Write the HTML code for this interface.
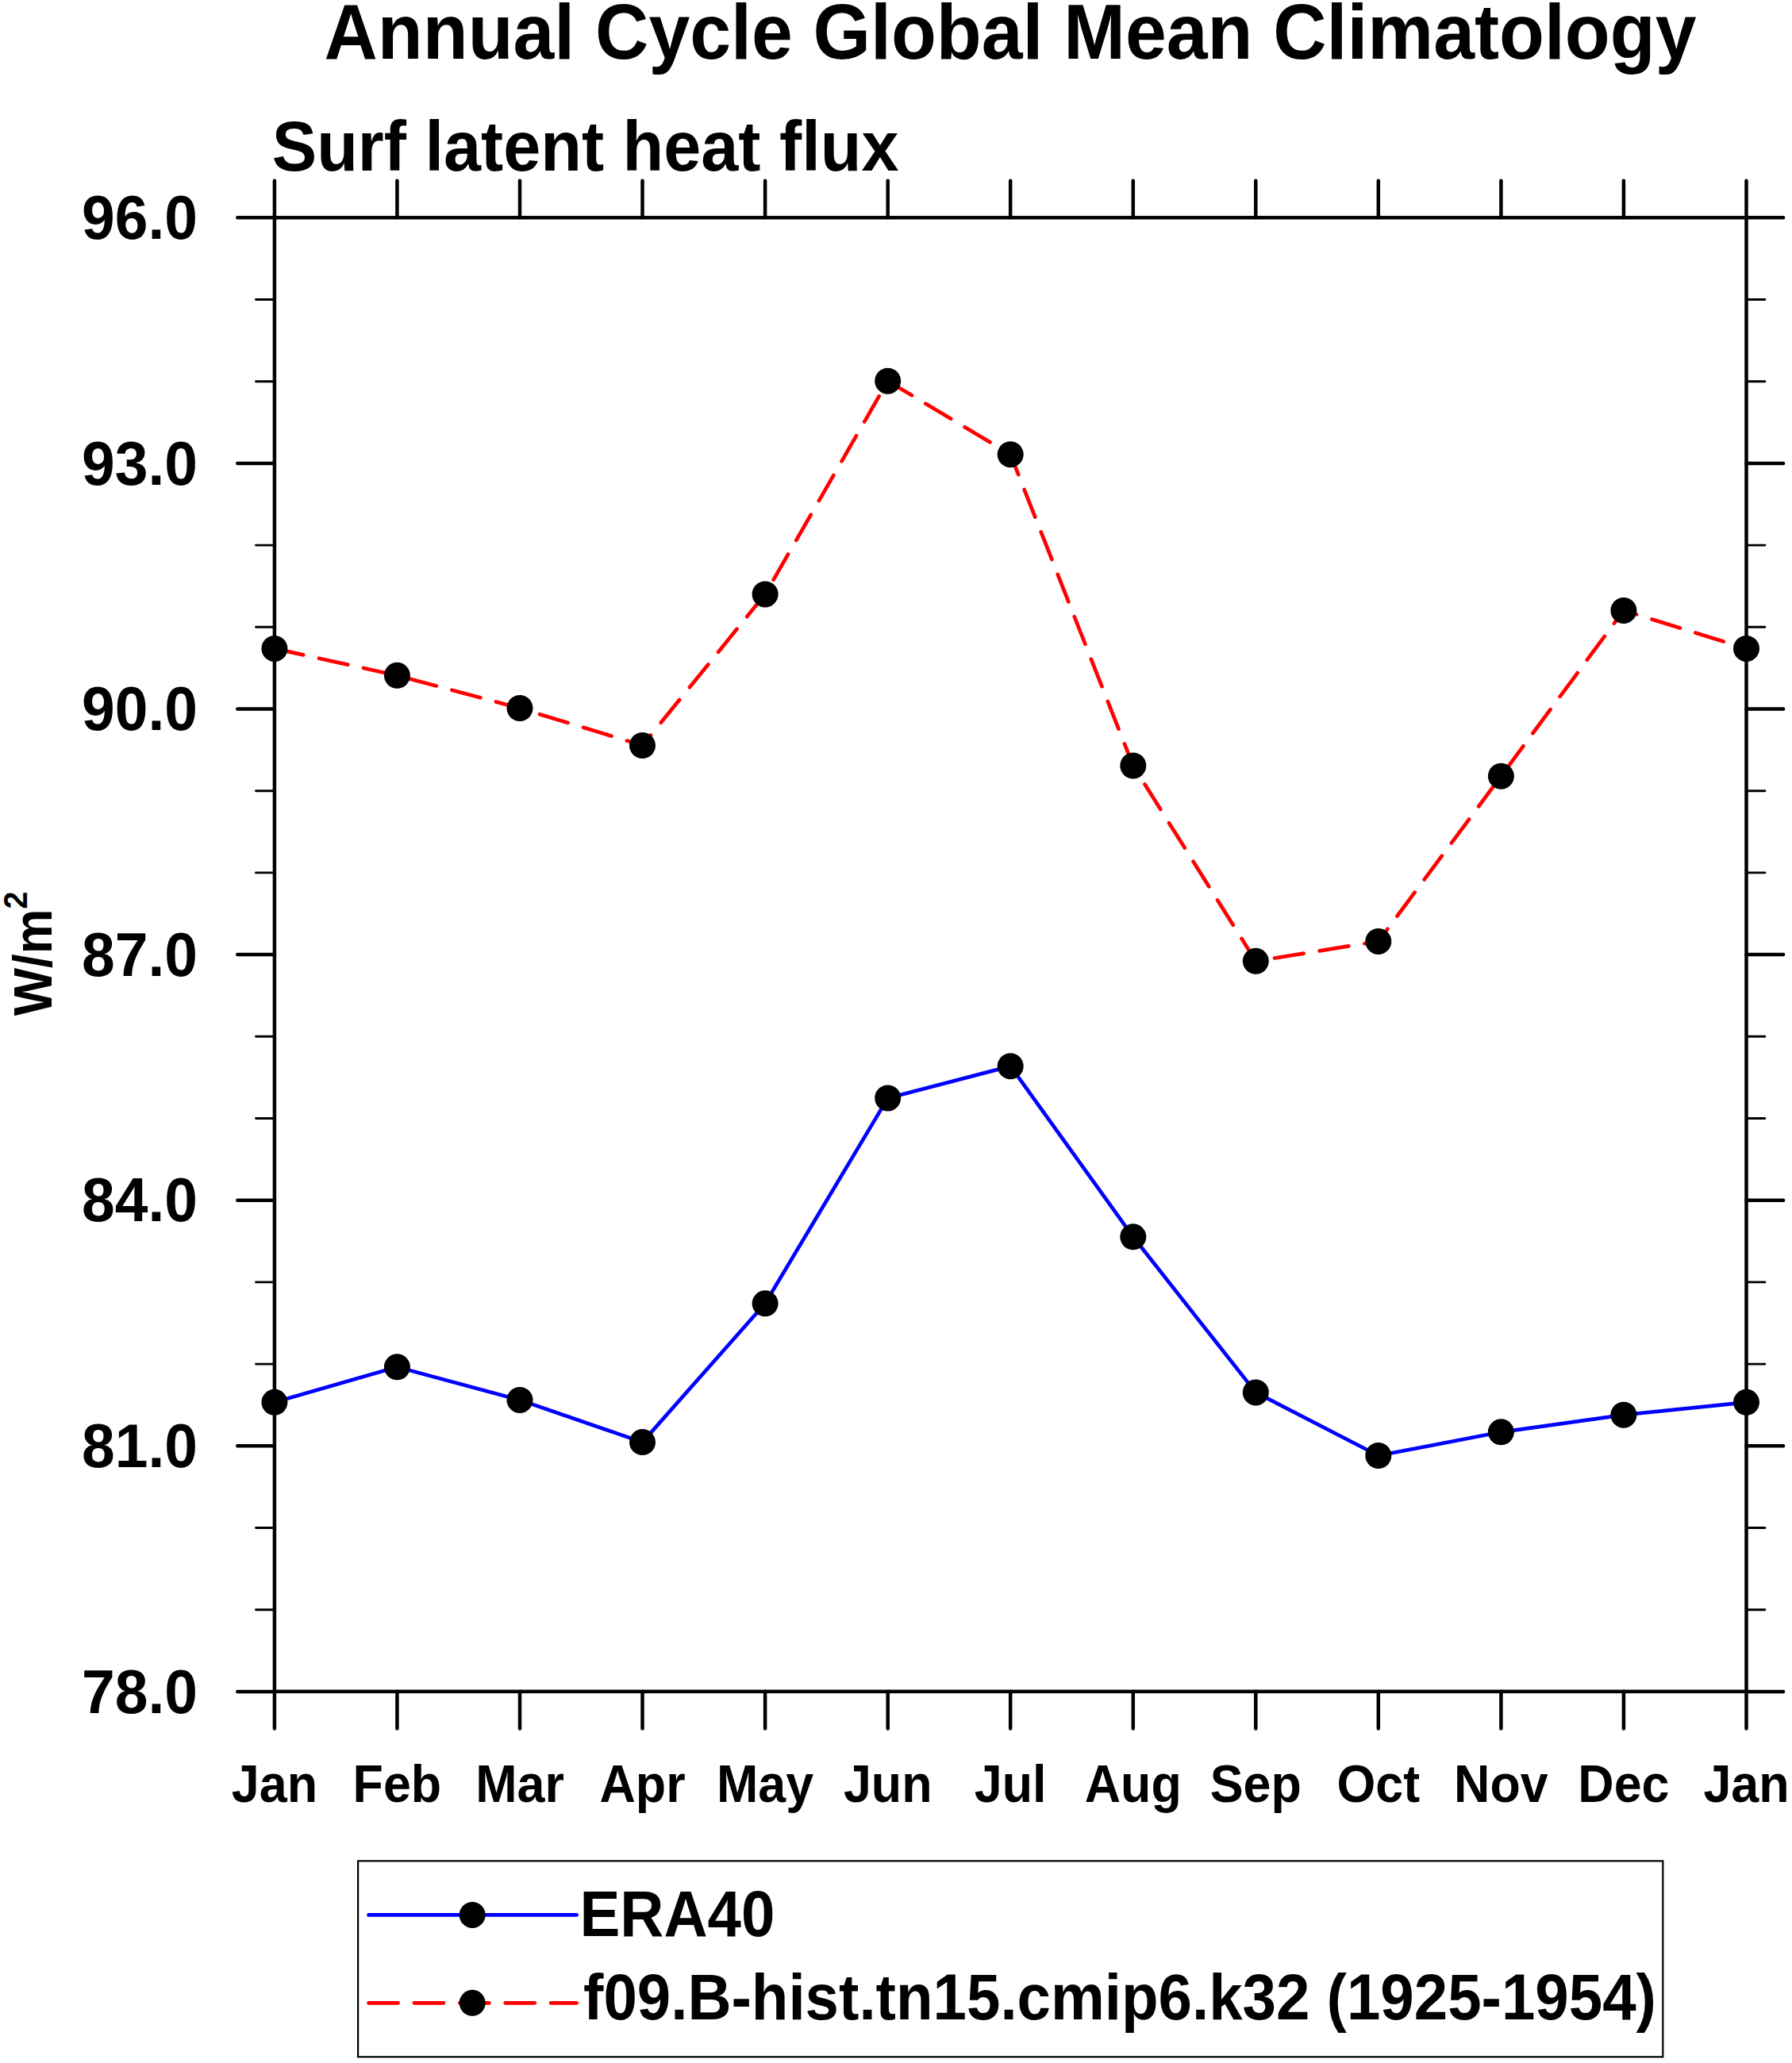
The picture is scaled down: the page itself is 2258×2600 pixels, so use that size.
<!DOCTYPE html>
<html lang="en"><head><meta charset="utf-8"><title>Annual Cycle Global Mean Climatology</title>
<style>html,body{margin:0;padding:0;background:#fff}svg{display:block}text{font-family:"Liberation Sans",sans-serif;font-weight:bold;fill:#000}</style></head><body>
<svg width="2258" height="2600" viewBox="0 0 2258 2600">
<rect width="2258" height="2600" fill="#fff"/>
<text id="title" transform="translate(1273.0 73.9) scale(0.9506 1)" font-size="98" text-anchor="middle">Annual Cycle Global Mean Climatology</text>
<text id="sub" transform="translate(342.7 214.8) scale(0.9455 1)" font-size="89.5">Surf latent heat flux</text>
<g stroke="#000" stroke-width="4.5" stroke-linecap="round" fill="none">
<rect x="345.9" y="274.3" width="1854.6" height="1857.5"/>
<path d="M345.9 274.3V227.70000000000002M345.9 2131.85V2178.45"/>
<path d="M500.4 274.3V227.70000000000002M500.4 2131.85V2178.45"/>
<path d="M655.0 274.3V227.70000000000002M655.0 2131.85V2178.45"/>
<path d="M809.5 274.3V227.70000000000002M809.5 2131.85V2178.45"/>
<path d="M964.1 274.3V227.70000000000002M964.1 2131.85V2178.45"/>
<path d="M1118.7 274.3V227.70000000000002M1118.7 2131.85V2178.45"/>
<path d="M1273.2 274.3V227.70000000000002M1273.2 2131.85V2178.45"/>
<path d="M1427.8 274.3V227.70000000000002M1427.8 2131.85V2178.45"/>
<path d="M1582.3 274.3V227.70000000000002M1582.3 2131.85V2178.45"/>
<path d="M1736.8 274.3V227.70000000000002M1736.8 2131.85V2178.45"/>
<path d="M1891.4 274.3V227.70000000000002M1891.4 2131.85V2178.45"/>
<path d="M2045.9 274.3V227.70000000000002M2045.9 2131.85V2178.45"/>
<path d="M2200.5 274.3V227.70000000000002M2200.5 2131.85V2178.45"/>
<path d="M345.9 274.3H299.29999999999995M2200.5 274.3H2247.1"/>
<path d="M345.9 583.9H299.29999999999995M2200.5 583.9H2247.1"/>
<path d="M345.9 893.5H299.29999999999995M2200.5 893.5H2247.1"/>
<path d="M345.9 1203.1H299.29999999999995M2200.5 1203.1H2247.1"/>
<path d="M345.9 1512.7H299.29999999999995M2200.5 1512.7H2247.1"/>
<path d="M345.9 1822.3H299.29999999999995M2200.5 1822.3H2247.1"/>
<path d="M345.9 2131.9H299.29999999999995M2200.5 2131.9H2247.1"/>
</g>
<g stroke="#000" stroke-width="2.9" stroke-linecap="round" fill="none">
<path d="M345.9 2028.7H322.5M2200.5 2028.7H2223.9"/>
<path d="M345.9 1925.5H322.5M2200.5 1925.5H2223.9"/>
<path d="M345.9 1719.1H322.5M2200.5 1719.1H2223.9"/>
<path d="M345.9 1615.9H322.5M2200.5 1615.9H2223.9"/>
<path d="M345.9 1409.5H322.5M2200.5 1409.5H2223.9"/>
<path d="M345.9 1306.3H322.5M2200.5 1306.3H2223.9"/>
<path d="M345.9 1099.9H322.5M2200.5 1099.9H2223.9"/>
<path d="M345.9 996.7H322.5M2200.5 996.7H2223.9"/>
<path d="M345.9 790.3H322.5M2200.5 790.3H2223.9"/>
<path d="M345.9 687.1H322.5M2200.5 687.1H2223.9"/>
<path d="M345.9 480.7H322.5M2200.5 480.7H2223.9"/>
<path d="M345.9 377.5H322.5M2200.5 377.5H2223.9"/>
</g>
<text class="yl" transform="translate(249 301.0) scale(0.953 1)" font-size="78.7" text-anchor="end">96.0</text>
<text class="yl" transform="translate(249 610.6) scale(0.953 1)" font-size="78.7" text-anchor="end">93.0</text>
<text class="yl" transform="translate(249 920.2) scale(0.953 1)" font-size="78.7" text-anchor="end">90.0</text>
<text class="yl" transform="translate(249 1229.8) scale(0.953 1)" font-size="78.7" text-anchor="end">87.0</text>
<text class="yl" transform="translate(249 1539.4) scale(0.953 1)" font-size="78.7" text-anchor="end">84.0</text>
<text class="yl" transform="translate(249 1849.0) scale(0.953 1)" font-size="78.7" text-anchor="end">81.0</text>
<text class="yl" transform="translate(249 2158.6) scale(0.953 1)" font-size="78.7" text-anchor="end">78.0</text>
<text class="xl" transform="translate(345.9 2271.4) scale(0.932 1)" font-size="67.4" text-anchor="middle">Jan</text>
<text class="xl" transform="translate(500.4 2271.4) scale(0.932 1)" font-size="67.4" text-anchor="middle">Feb</text>
<text class="xl" transform="translate(655.0 2271.4) scale(0.932 1)" font-size="67.4" text-anchor="middle">Mar</text>
<text class="xl" transform="translate(809.5 2271.4) scale(0.932 1)" font-size="67.4" text-anchor="middle">Apr</text>
<text class="xl" transform="translate(964.1 2271.4) scale(0.932 1)" font-size="67.4" text-anchor="middle">May</text>
<text class="xl" transform="translate(1118.7 2271.4) scale(0.932 1)" font-size="67.4" text-anchor="middle">Jun</text>
<text class="xl" transform="translate(1273.2 2271.4) scale(0.932 1)" font-size="67.4" text-anchor="middle">Jul</text>
<text class="xl" transform="translate(1427.8 2271.4) scale(0.932 1)" font-size="67.4" text-anchor="middle">Aug</text>
<text class="xl" transform="translate(1582.3 2271.4) scale(0.932 1)" font-size="67.4" text-anchor="middle">Sep</text>
<text class="xl" transform="translate(1736.8 2271.4) scale(0.932 1)" font-size="67.4" text-anchor="middle">Oct</text>
<text class="xl" transform="translate(1891.4 2271.4) scale(0.932 1)" font-size="67.4" text-anchor="middle">Nov</text>
<text class="xl" transform="translate(2045.9 2271.4) scale(0.932 1)" font-size="67.4" text-anchor="middle">Dec</text>
<text class="xl" transform="translate(2200.5 2271.4) scale(0.932 1)" font-size="67.4" text-anchor="middle">Jan</text>
<text id="yt" transform="translate(65.4 1280.2) rotate(-90) scale(0.9415 1)" font-size="67.8">W/m<tspan font-size="41.8" dy="-31.1">2</tspan></text>
<polyline points="345.9,1767.3 500.4,1722.8 655.0,1764.4 809.5,1817.6 964.1,1642.8 1118.7,1383.9 1273.2,1343.7 1427.8,1558.8 1582.3,1754.9 1736.8,1834.5 1891.4,1804.8 2045.9,1783.2 2200.5,1767.3" fill="none" stroke="#0000ff" stroke-width="4.7" stroke-linejoin="round" stroke-linecap="round"/>
<polyline points="345.9,817.4 500.4,851.3 655.0,892.5 809.5,939.5 964.1,748.9 1118.7,480.2 1273.2,572.7 1427.8,965.0 1582.3,1211.3 1736.8,1186.4 1891.4,978.2 2045.9,769.4 2200.5,817.4" fill="none" stroke="#ff0000" stroke-width="4.7" stroke-linejoin="round" stroke-linecap="round" stroke-dasharray="37.1 20.3"/>
<g fill="#000">
<circle cx="345.9" cy="1767.3" r="16.5"/>
<circle cx="500.4" cy="1722.8" r="16.5"/>
<circle cx="655.0" cy="1764.4" r="16.5"/>
<circle cx="809.5" cy="1817.6" r="16.5"/>
<circle cx="964.1" cy="1642.8" r="16.5"/>
<circle cx="1118.7" cy="1383.9" r="16.5"/>
<circle cx="1273.2" cy="1343.7" r="16.5"/>
<circle cx="1427.8" cy="1558.8" r="16.5"/>
<circle cx="1582.3" cy="1754.9" r="16.5"/>
<circle cx="1736.8" cy="1834.5" r="16.5"/>
<circle cx="1891.4" cy="1804.8" r="16.5"/>
<circle cx="2045.9" cy="1783.2" r="16.5"/>
<circle cx="2200.5" cy="1767.3" r="16.5"/>
<circle cx="345.9" cy="817.4" r="16.5"/>
<circle cx="500.4" cy="851.3" r="16.5"/>
<circle cx="655.0" cy="892.5" r="16.5"/>
<circle cx="809.5" cy="939.5" r="16.5"/>
<circle cx="964.1" cy="748.9" r="16.5"/>
<circle cx="1118.7" cy="480.2" r="16.5"/>
<circle cx="1273.2" cy="572.7" r="16.5"/>
<circle cx="1427.8" cy="965.0" r="16.5"/>
<circle cx="1582.3" cy="1211.3" r="16.5"/>
<circle cx="1736.8" cy="1186.4" r="16.5"/>
<circle cx="1891.4" cy="978.2" r="16.5"/>
<circle cx="2045.9" cy="769.4" r="16.5"/>
<circle cx="2200.5" cy="817.4" r="16.5"/>
</g>
<rect x="451.1" y="2345.4" width="1644.2" height="246.9" fill="#fff" stroke="#000" stroke-width="2.2"/>
<path d="M464.5 2413.4H726.7" stroke="#0000ff" stroke-width="4.7" stroke-linecap="round" fill="none"/>
<path d="M464.5 2524.3H726.7" stroke="#ff0000" stroke-width="4.7" stroke-linecap="round" fill="none" stroke-dasharray="37.1 20.3"/>
<circle cx="595.2" cy="2413.4" r="16.5"/><circle cx="595.2" cy="2524.3" r="16.5"/>
<text id="l1" transform="translate(730.5 2440.4) scale(0.9417 1)" font-size="81">ERA40</text>
<text id="l2" transform="translate(735 2544.8) scale(0.9415 1)" font-size="81">f09.B-hist.tn15.cmip6.k32 (1925-1954)</text>
</svg></body></html>
